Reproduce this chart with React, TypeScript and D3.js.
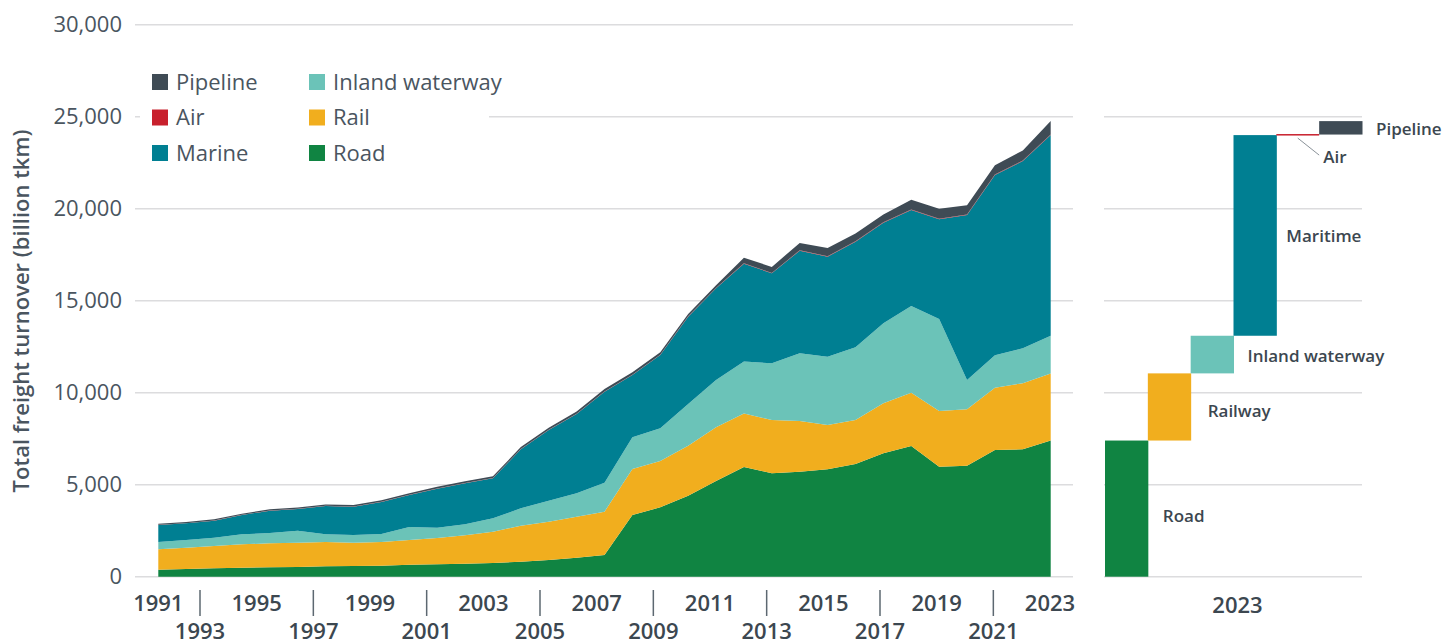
import React from "react";
import * as d3 from "d3";

const years = [1991,1992,1993,1994,1995,1996,1997,1998,1999,2000,2001,2002,2003,2004,2005,2006,2007,2008,2009,2010,2011,2012,2013,2014,2015,2016,2017,2018,2019,2020,2021,2022,2023];
const road = [380,418,456,489,511,527,565,581,598,652,674,707,745,815,908,1033,1179,3353,3770,4402,5201,5960,5620,5707,5835,6125,6705,7103,5978,6033,6886,6924,7400];
const rail = [1109,1158,1212,1271,1304,1321,1321,1267,1288,1343,1429,1543,1701,1957,2081,2228,2354,2500,2518,2718,2919,2910,2896,2755,2410,2391,2719,2897,3027,3065,3386,3587,3650];
const inland = [397,419,452,544,560,652,418,418,434,706,560,597,728,945,1141,1272,1576,1723,1775,2266,2570,2830,3082,3679,3712,3951,4348,4712,5000,1590,1766,1902,2045];
const marine = [924,907,923,1049,1212,1180,1538,1538,1740,1739,2120,2229,2174,3207,3843,4309,4945,3386,3986,4744,4983,5310,4891,5576,5434,5740,5467,5217,5419,8970,9794,10179,10905];
const air = [8,8,9,9,10,10,11,11,12,12,13,13,14,15,16,17,18,18,19,20,21,22,22,23,24,25,26,27,28,25,27,29,30];
const pipeline = [60,60,65,65,70,70,75,75,80,85,90,95,100,105,110,115,126,125,125,131,142,300,326,400,454,418,419,527,543,505,505,544,730];

const seriesKeys = ["Road", "Rail", "Inland waterway", "Marine", "Air", "Pipeline"];
const seriesColors = ["#108442", "#f1ae1e", "#6bc3b8", "#007f92", "#c8202d", "#3f4b55"];
const legendCol1 = ["Pipeline", "Air", "Marine"];
const legendCol2 = ["Inland waterway", "Rail", "Road"];
const waterfallLabels = ["Road", "Railway", "Inland waterway", "Maritime", "Air", "Pipeline"];
const yTicks = [0, 5000, 10000, 15000, 20000, 25000, 30000];
const labelYears = [1991,1993,1995,1997,1999,2001,2003,2005,2007,2009,2011,2013,2015,2017,2019,2021,2023];

const FONT = "'Open Sans', sans-serif";
const TXT = "#4a555f";
const BOLD = "#3c4750";

export default function App() {
  const seriesVals = [road, rail, inland, marine, air, pipeline];
  const table = years.map((y, i) => {
    const o: any = { year: y };
    seriesKeys.forEach((k, j) => (o[k] = seriesVals[j][i]));
    return o;
  });
  const stack = d3.stack().keys(seriesKeys)(table as any);

  const yScale = d3.scaleLinear().domain([0, 30000]).range([576.7, 24.7]);
  const xScale = d3.scalePoint<number>().domain(years).range([158.3, 1050.7]);
  const labelX = d3.scaleLinear().domain([1993, 2023]).range([200, 1050]);
  const area = d3
    .area<any>()
    .x((d) => xScale(d.data.year) as number)
    .y0((d) => yScale(d[0]))
    .y1((d) => yScale(d[1]));

  const leftX0 = 135, leftX1 = 1073;
  const rightX0 = 1105, rightX1 = 1362;

  const last = years.length - 1;
  const wfVals = seriesVals.map((s) => s[last]);
  const wfBand = d3.scaleBand().domain(waterfallLabels).range([rightX0, rightX1]).padding(0);
  let cum = 0;
  const wf = wfVals.map((v, i) => {
    const start = cum;
    cum += v;
    return { label: waterfallLabels[i], start, end: cum, color: seriesColors[i] };
  });

  return (
    <svg width={1444} height={643} style={{ position: "absolute", left: 0, top: 0, background: "#fff" }} fontFamily={FONT}>
      {yTicks.map((t) => (
        <line key={"gl" + t} x1={leftX0} x2={leftX1} y1={yScale(t)} y2={yScale(t)} stroke="#dcdcde" strokeWidth={1.5} />
      ))}
      {yTicks.filter((t) => t <= 25000).map((t) => (
        <line key={"gr" + t} x1={rightX0 - 1} x2={rightX1} y1={yScale(t)} y2={yScale(t)} stroke="#dcdcde" strokeWidth={1.5} />
      ))}
      {yTicks.map((t) => (
        <text key={"yt" + t} x={122} y={yScale(t)} dy="0.35em" textAnchor="end" fontSize={22} fontWeight={400} fill={TXT}>
          {d3.format(",")(t)}
        </text>
      ))}
      <text transform={`translate(21,311) rotate(-90)`} textAnchor="middle" dy="0.35em" fontSize={22} fontWeight={600} fill={TXT}>
        Total freight turnover (billion tkm)
      </text>

      {stack.map((s, i) => (
        <path key={seriesKeys[i]} d={area(s as any) as string} fill={seriesColors[i]} />
      ))}

      <rect x={140} y={62} width={349} height={112} fill="#fff" />
      {[legendCol1, legendCol2].map((col, ci) =>
        col.map((name, ri) => {
          const color = seriesColors[seriesKeys.indexOf(name)];
          const x = ci === 0 ? 152 : 309;
          const y = 82 + ri * 35.5;
          return (
            <g key={name}>
              <rect x={x} y={y - 8} width={16} height={16} fill={color} />
              <text x={x + 24} y={y} dy="0.35em" fontSize={22} fontWeight={400} fill={TXT}>
                {name}
              </text>
            </g>
          );
        })
      )}

      {labelYears.map((yr, i) => {
        const bottom = i % 2 === 1;
        const x = yr === 1991 ? Math.max(labelX(yr), xScale(yr) as number) : labelX(yr);
        return (
          <g key={"xl" + yr}>
            {bottom && <line x1={x} x2={x} y1={590} y2={616} stroke="#5d6871" strokeWidth={1.5} />}
            <text x={x} y={bottom ? 631 : 603} dy="0.35em" textAnchor="middle" fontSize={22} fontWeight={600} fill={BOLD}>
              {yr}
            </text>
          </g>
        );
      })}

      {wf.map((d, i) => {
        const x = wfBand(d.label) as number;
        const w = wfBand.bandwidth();
        const yTop = yScale(d.end);
        const yBot = yScale(d.start);
        const mid = (yTop + yBot) / 2;
        if (d.label === "Air") {
          return (
            <g key={"wf" + i}>
              <rect x={x} y={yTop - 0.5} width={w} height={Math.max(yBot - yTop, 1.5)} fill={d.color} />
              <line x1={x + w / 2} y1={yBot + 3} x2={x + w} y2={yBot + 20} stroke="#8a9299" strokeWidth={1} />
              <text x={x + w + 4} y={yBot + 22} dy="0.35em" fontSize={17} fontWeight={600} fill={BOLD}>
                {d.label}
              </text>
            </g>
          );
        }
        const off = d.label === "Maritime" ? 10 : d.label === "Road" ? 15 : d.label === "Railway" ? 17 : 14;
        const dyOff = d.label === "Road" ? 7 : d.label === "Railway" ? 4 : 1;
        return (
          <g key={"wf" + i}>
            <rect x={x} y={yTop} width={w + 0.5} height={yBot - yTop} fill={d.color} />
            <text x={x + w + off} y={mid + dyOff} dy="0.35em" fontSize={17} fontWeight={600} fill={BOLD}>
              {d.label}
            </text>
          </g>
        );
      })}
      <text x={(rightX0 + rightX1) / 2 + 4} y={605} dy="0.35em" textAnchor="middle" fontSize={22} fontWeight={600} fill={BOLD}>
        {years[last]}
      </text>
    </svg>
  );
}
